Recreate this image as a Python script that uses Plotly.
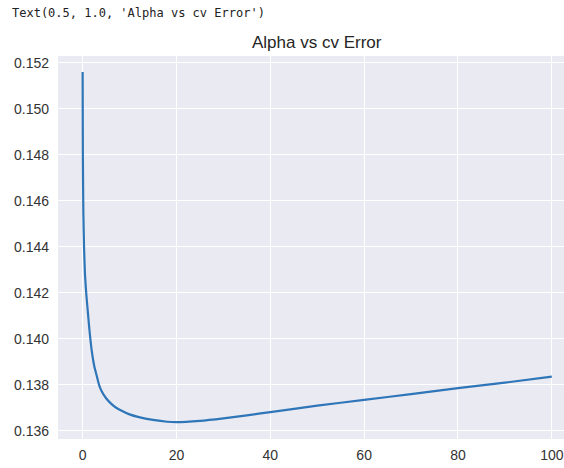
import plotly.graph_objects as go

alpha = [0.0, 0.05, 0.15, 0.3, 0.5, 0.8, 1.1, 1.4, 1.7, 2.0, 2.5, 3.0, 3.5, 4.0, 5.0,
         6.0, 7.0, 8.0, 10, 12, 15, 18, 20, 25, 30, 35, 40, 50, 60, 70, 80, 90, 100]
cv_error = [0.1516, 0.1480, 0.1455, 0.1440, 0.1428, 0.1419, 0.1412, 0.1405, 0.1399,
            0.1394, 0.1388, 0.1384, 0.1380, 0.13775, 0.13742, 0.13720, 0.13703, 0.13691,
            0.13672, 0.13660, 0.13648, 0.13640, 0.13638, 0.13644, 0.13655, 0.13668,
            0.13682, 0.13710, 0.13735, 0.13760, 0.13786, 0.13810, 0.13836]

x_ticks = [0, 20, 40, 60, 80, 100]
y_ticks = [0.136, 0.138, 0.140, 0.142, 0.144, 0.146, 0.148, 0.150, 0.152]
y_labels = ["0.136", "0.138", "0.140", "0.142", "0.144", "0.146", "0.148", "0.150", "0.152"]

PLOT_W = 506
PLOT_H = 383
BOTTOM = 439

fig = go.Figure()
fig.add_trace(go.Scatter(x=alpha, y=cv_error, mode="lines",
                         line=dict(color="#2f76b8", width=2.2, shape="spline", smoothing=0.5),
                         showlegend=False, hoverinfo="skip"))

fig.update_layout(
    width=564, height=468,
    margin=dict(l=58, r=0, t=56, b=29),
    paper_bgcolor="white",
    plot_bgcolor="#EAEAF2",
    font=dict(family="Liberation Sans, Arial, sans-serif", size=14, color="#333333"),
    showlegend=False,
    annotations=[
        dict(text="Text(0.5, 1.0, 'Alpha vs cv Error')", xref="paper", yref="paper",
             x=(10 - 58) / PLOT_W, y=(BOTTOM - 13) / PLOT_H, xanchor="left", yanchor="middle",
             showarrow=False,
             font=dict(family="DejaVu Sans Mono, monospace", size=12, color="#222222")),
        dict(text="Alpha vs cv Error", xref="paper", yref="paper",
             x=(317 - 58) / PLOT_W, y=(BOTTOM - 42) / PLOT_H, xanchor="center", yanchor="middle",
             showarrow=False,
             font=dict(family="Liberation Sans, Arial, sans-serif", size=17, color="#262626")),
    ],
)
fig.update_xaxes(range=[-5.25, 102.6], tickvals=x_ticks, ticks="", showline=False,
                 showgrid=True, gridcolor="white", gridwidth=1.3, zeroline=False,
                 ticklabelstandoff=6, tickfont=dict(size=14, color="#333333"))
fig.update_yaxes(range=[0.13565, 0.15230], tickvals=y_ticks, ticktext=y_labels, ticks="",
                 showline=False, showgrid=True, gridcolor="white", gridwidth=1.3,
                 zeroline=False, ticklabelstandoff=8, tickfont=dict(size=14, color="#333333"))

fig.write_html("out.html")
